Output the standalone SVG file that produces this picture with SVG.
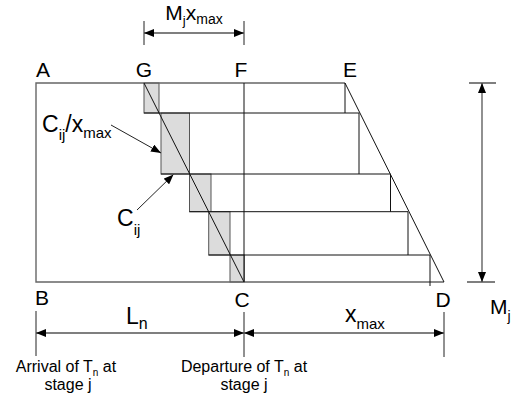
<svg xmlns="http://www.w3.org/2000/svg" width="516" height="396" viewBox="0 0 516 396">
<style>
text{font-family:"Liberation Sans",Arial,sans-serif;fill:#000}
.lbl{font-size:21px}
.big{font-size:23px}
.sm{font-size:16px}
.frame{stroke:#666;stroke-width:1.4;fill:none}
.inner{stroke:#111;stroke-width:1;fill:none}
.dim{stroke:#555;stroke-width:1.3;fill:none}
.tick{stroke:#222;stroke-width:1;fill:none}
.step{fill:#dcdcdc;stroke:#555;stroke-width:1}
</style>
<defs>
<marker id="ah" viewBox="0 0 10 8" refX="10" refY="4" markerWidth="10" markerHeight="8" markerUnits="userSpaceOnUse" orient="auto-start-reverse">
<path d="M0,0 L10,4 L0,8 z" fill="#000"/>
</marker>
</defs>
<g id="steps">
<rect class="step" x="144" y="83" width="15" height="30"/>
<rect class="step" x="161" y="113" width="28.5" height="61"/>
<rect class="step" x="189.5" y="174" width="21.5" height="37.7"/>
<rect class="step" x="208.7" y="211.7" width="21.3" height="43.3"/>
<rect class="step" x="230" y="255" width="14.3" height="27"/>
</g>
<g id="frame">
<path class="frame" d="M345,83 H36 V282 H444"/>
<path class="inner" d="M144,113 H359 M161,174 H390.5 M189.5,211.7 H408 M208.7,255 H430"/>
<path class="inner" d="M345,83 V113 M359,113 V174 M390.5,174 V211.7 M408,211.7 V255 M430,255 V286"/>
<path class="inner" d="M244,83 V282"/>
<path class="inner" d="M144,83 L244,282"/>
<path class="inner" d="M345,83 L444,282"/>
</g>
<g id="connectors">
<path class="tick" d="M144,21 V45 M244,21 V45"/>
<path class="dim" d="M144,33 H244" marker-start="url(#ah)" marker-end="url(#ah)"/>
<path class="tick" d="M36,311 V356 M244,312 V357 M444,312 V357"/>
<path class="dim" d="M36,333 H244" marker-start="url(#ah)" marker-end="url(#ah)"/>
<path class="dim" d="M244,333 H444" marker-start="url(#ah)" marker-end="url(#ah)"/>
<path class="dim" d="M469,83 H496 M467,282 H495"/>
<path class="dim" d="M482,83 V282" marker-start="url(#ah)" marker-end="url(#ah)"/>
<path class="tick" d="M111,125 L161,153" marker-end="url(#ah)"/>
<path class="tick" d="M137,210 L173.5,174.5" marker-end="url(#ah)"/>
</g>
<g id="labels">
<text class="lbl" x="36" y="77">A</text>
<text class="lbl" x="144" y="77" text-anchor="middle">G</text>
<text class="lbl" x="241" y="77" text-anchor="middle">F</text>
<text class="lbl" x="350" y="77" text-anchor="middle">E</text>
<text class="lbl" x="35" y="305">B</text>
<text class="lbl" x="242" y="307" text-anchor="middle">C</text>
<text class="lbl" x="443" y="307" text-anchor="middle">D</text>
<text class="lbl" x="194" y="20" text-anchor="middle">M<tspan font-size="13" dy="5">j</tspan><tspan dy="-5">x</tspan><tspan font-size="14" dy="4">max</tspan></text>
<text class="big" x="42" y="132">C<tspan font-size="15" dy="8">ij</tspan><tspan dy="-8">/x</tspan><tspan font-size="15" dy="6">max</tspan></text>
<text class="big" x="117" y="226">C<tspan font-size="15" dy="9">ij</tspan></text>
<text class="big" x="126" y="324">L<tspan font-size="16" dy="5">n</tspan></text>
<text class="big" x="345" y="322">x<tspan font-size="15" dy="7">max</tspan></text>
<text class="lbl" x="490" y="314">M<tspan font-size="14" dy="7">j</tspan></text>
<text class="sm" x="66" y="372" text-anchor="middle">Arrival of T<tspan font-size="10" dy="4">n</tspan><tspan dy="-4"> at</tspan></text>
<text class="sm" x="68" y="390" text-anchor="middle">stage j</text>
<text class="sm" x="244" y="372" text-anchor="middle">Departure of T<tspan font-size="10" dy="4">n</tspan><tspan dy="-4"> at</tspan></text>
<text class="sm" x="244" y="390" text-anchor="middle">stage j</text>
</g>
</svg>
